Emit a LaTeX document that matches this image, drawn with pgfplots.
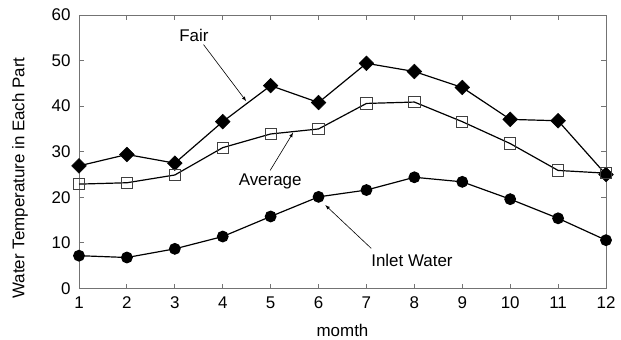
\documentclass[border=0pt]{standalone}
\usepackage{fontspec}
\setmainfont{Liberation Sans}
\usepackage{pgfplots}
\pgfplotsset{compat=1.18}
\begin{document}
\begin{tikzpicture}
\begin{axis}[
  scale only axis,
  width=527bp, height=273.5bp,
  xmin=1, xmax=12, ymin=0, ymax=60,
  xtick={1,...,12}, ytick={0,10,...,60},
  tick align=inside,
  major tick length=5bp,
  axis line style={draw=gray!90!black, line width=0.9pt},
  every tick/.style={draw=gray!90!black, line width=0.9pt},
  tick label style={font=\fontsize{17}{19}\selectfont},
  xticklabel style={yshift=-5bp},
  yticklabel style={xshift=-5bp},
  /pgf/number format/assume math mode=true,
  xlabel={momth}, ylabel={Water Temperature in Each Part},
  label style={font=\fontsize{17}{19}\selectfont},
  xlabel style={at={(axis description cs:0.5,-0.152)}, anchor=center},
  ylabel style={at={(axis description cs:-0.112,0.404)}, anchor=center},
  clip=false,
]
\addplot[black, line width=1.2pt, mark=square*, mark size=5.2bp, mark options={fill=black, rotate=45, line width=0.5pt}] coordinates {
(1,26.9) (2,29.4) (3,27.5) (4,36.6) (5,44.5) (6,40.8) (7,49.4) (8,47.6) (9,44.1) (10,37.1) (11,36.8) (12,25.0)};
\addplot[black, line width=1.2pt, mark=square, mark size=5.6bp, mark options={fill=white, draw=black!75, line width=0.9pt}] coordinates {
(1,22.9) (2,23.2) (3,24.9) (4,30.9) (5,33.9) (6,35.0) (7,40.6) (8,40.9) (9,36.6) (10,31.8) (11,25.9) (12,25.3)};
\addplot[black, line width=1.2pt, mark=*, mark size=5.3bp, mark options={fill=black}] coordinates {
(1,7.2) (2,6.8) (3,8.7) (4,11.4) (5,15.8) (6,20.1) (7,21.6) (8,24.4) (9,23.4) (10,19.6) (11,15.4) (12,10.6)};
\node[font=\fontsize{17}{19}\selectfont] at (axis cs:3.40,55.6) {Fair};
\draw[-latex, line width=0.6pt] (axis cs:3.60,53.5) -- (axis cs:4.49,41.1);
\node[font=\fontsize{17}{19}\selectfont] at (axis cs:4.99,23.4) {Average};
\draw[-latex, line width=0.6pt] (axis cs:4.99,25.9) -- (axis cs:5.47,34.2);
\node[font=\fontsize{17}{19}\selectfont] at (axis cs:7.95,6.2) {Inlet Water};
\draw[-latex, line width=0.6pt] (axis cs:7.10,8.8) -- (axis cs:6.14,18.3);
\coordinate (ll) at (rel axis cs:0,0);
\coordinate (ur) at (rel axis cs:1,1);
\end{axis}
\pgfresetboundingbox
\path[use as bounding box] ([xshift=-79bp,yshift=-51.5bp]ll) rectangle ([xshift=15bp,yshift=15bp]ur);
\end{tikzpicture}
\end{document}
